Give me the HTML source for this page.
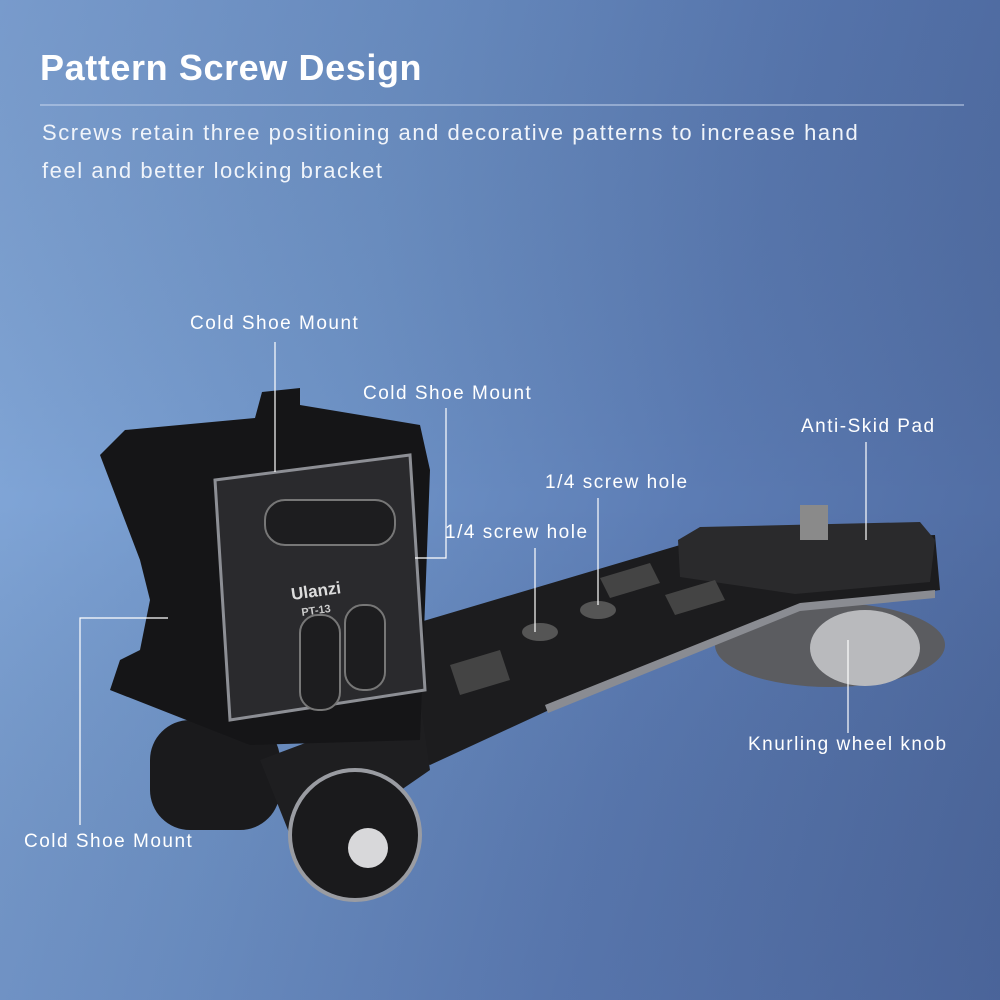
<!DOCTYPE html>
<html><head><meta charset="utf-8"><style>
html,body{margin:0;padding:0}
body{width:1000px;height:1000px;overflow:hidden;position:relative;font-family:"Liberation Sans",sans-serif;color:#fff;
background:linear-gradient(105deg,#86abdc 0%,#7095c9 35%,#5c7cb4 65%,#4d689e 100%);}
.t{position:absolute;white-space:nowrap}
.l{font-size:19px;letter-spacing:1.5px}
</style></head><body>
<svg width="1000" height="1000" style="position:absolute;left:0;top:0">
<defs>
<linearGradient id="gb" x1="0" x2="0" y1="0" y2="1"><stop offset="0" stop-color="#2a3f70" stop-opacity="0.15"/><stop offset="0.5" stop-color="#000" stop-opacity="0"/><stop offset="1" stop-color="#3c4f80" stop-opacity="0.15"/></linearGradient>
</defs>
<rect width="1000" height="1000" fill="url(#gb)"/>
<line x1="40" y1="105" x2="964" y2="105" stroke="#c8d6ee" stroke-width="1"/>
<!-- knob -->
<ellipse cx="830" cy="645" rx="115" ry="42" fill="#5b5c60"/>
<ellipse cx="865" cy="648" rx="55" ry="38" fill="#b9babd"/>
<!-- arm -->
<polygon points="410,625 680,545 935,535 940,590 800,610 560,705 430,765 380,745" fill="#1c1c1e"/>
<polygon points="545,705 800,603 935,590 935,598 800,611 548,713" fill="#8a8c92"/>
<!-- plate -->
<polygon points="678,540 700,527 920,522 935,540 930,582 795,594 680,577" fill="#2a2a2c"/>
<rect x="800" y="505" width="28" height="35" fill="#8a8a8a"/>
<!-- holes -->
<ellipse cx="540" cy="632" rx="18" ry="9" fill="#555"/>
<ellipse cx="598" cy="610" rx="18" ry="9" fill="#555"/>
<polygon points="600,578 650,563 660,583 610,598" fill="#444"/>
<polygon points="665,595 715,580 725,600 675,615" fill="#444"/>
<polygon points="450,665 500,650 510,680 460,695" fill="#444"/>
<!-- lower hinge -->
<rect x="150" y="720" width="130" height="110" rx="40" fill="#1a1a1c"/>
<polygon points="260,760 420,700 430,770 300,860" fill="#1e1e20"/>
<circle cx="355" cy="835" r="65" fill="#1a1a1c" stroke="#9a9ca2" stroke-width="4"/>
<circle cx="368" cy="848" r="20" fill="#d8d8da"/>
<!-- cold shoe block -->
<polygon points="100,455 125,430 255,418 262,392 300,388 300,405 420,425 430,470 420,740 250,745 110,690 120,660 140,650 150,600 140,560" fill="#151517"/>
<polygon points="215,480 410,455 425,690 230,720" fill="#2a2a2d" stroke="#8d8f95" stroke-width="3"/>
<rect x="265" y="500" width="130" height="45" rx="20" fill="#1d1d1f" stroke="#777" stroke-width="2"/>
<rect x="300" y="615" width="40" height="95" rx="18" fill="#1d1d1f" stroke="#777" stroke-width="2"/>
<rect x="345" y="605" width="40" height="85" rx="18" fill="#1d1d1f" stroke="#777" stroke-width="2"/>
<text x="292" y="600" font-family="Liberation Sans" font-weight="bold" font-size="17" fill="#ddd" transform="rotate(-8 292 600)">Ulanzi</text>
<text x="302" y="616" font-family="Liberation Sans" font-weight="bold" font-size="11" fill="#ccc" transform="rotate(-8 302 616)">PT-13</text>
<!-- leader lines -->
<g stroke="#fff" stroke-width="1.2" fill="none">
<polyline points="275,342 275,472"/>
<polyline points="446,408 446,558 415,558"/>
<polyline points="866,442 866,540"/>
<polyline points="598,498 598,605"/>
<polyline points="535,548 535,632"/>
<polyline points="848,640 848,733"/>
<polyline points="168,618 80,618 80,825"/>
</g>
</svg>
<div class="t" style="left:40px;top:47px;font-size:36px;font-weight:bold;letter-spacing:0.6px">Pattern Screw Design</div>
<div class="t" style="left:42px;top:114px;font-size:22px;line-height:38px;color:#f0f4fa;letter-spacing:1.55px">Screws retain three positioning and decorative patterns to increase hand<br>feel and better locking bracket</div>
<div class="t l" style="left:190px;top:313px">Cold Shoe Mount</div>
<div class="t l" style="left:363px;top:383px">Cold Shoe Mount</div>
<div class="t l" style="left:801px;top:416px">Anti-Skid Pad</div>
<div class="t l" style="left:545px;top:472px">1/4 screw hole</div>
<div class="t l" style="left:445px;top:522px">1/4 screw hole</div>
<div class="t l" style="left:748px;top:734px">Knurling wheel knob</div>
<div class="t l" style="left:24px;top:831px">Cold Shoe Mount</div>
</body></html>
